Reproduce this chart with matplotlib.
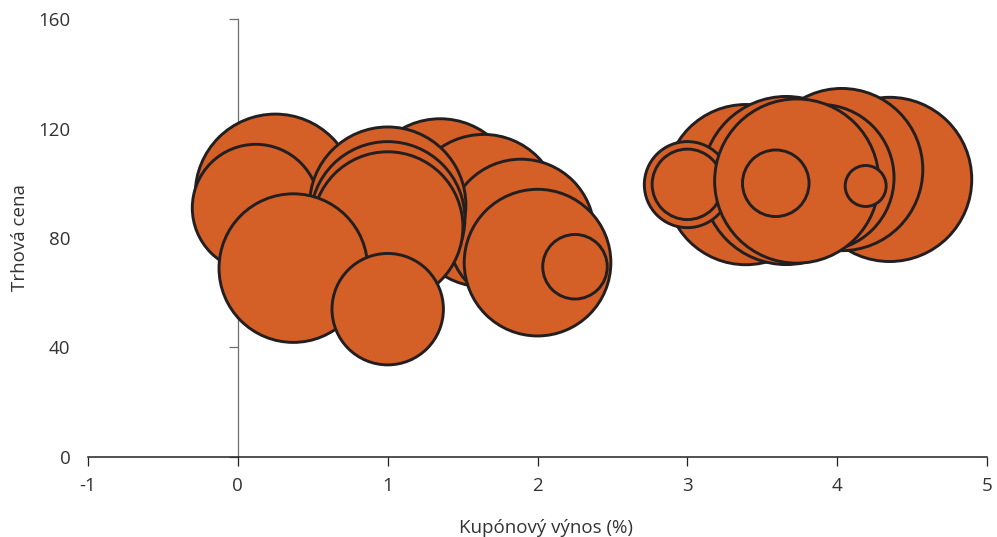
import matplotlib
matplotlib.use('Agg')
import matplotlib.pyplot as plt

plt.rcParams['font.family'] = ['Open Sans', 'DejaVu Sans']

# bubbles in drawing order (back to front)
kupon = [1.35, 1.64, 1.89, 0.25, 0.12, 1.0, 1.0, 1.0, 2.0, 0.37, 1.0, 2.25,
         4.35, 3.39, 3.66, 3.0, 3.0, 4.03, 3.89, 3.73, 3.59, 4.19]
cena = [95, 90, 82, 96, 91, 92, 87, 84, 71, 69, 54, 69.5,
        101.4, 99.5, 101, 99.5, 99.6, 105, 102, 100.8, 100, 99]
objem = [64, 60.8, 56.3, 67.2, 42.3, 64, 62.4, 59.3, 56.3, 57.8, 32.5, 10.9,
         70.6, 67.2, 74, 19.4, 13, 68.9, 56.3, 70.6, 11.6, 4.4]

xticks = [-1, 0, 1, 2, 3, 4, 5]
yticks = [0, 40, 80, 120, 160]

fig = plt.figure(figsize=(9.97, 5.37), dpi=100)
ax = fig.add_axes([0.0883, 0.149, 0.9017, 0.8156])

ax.scatter(kupon, cena, s=[v * 198 for v in objem], c='#D45F27',
           edgecolors='#231F20', linewidths=2.1, zorder=3)

ax.set_xlim(-1, 5)
ax.set_ylim(0, 160)
ax.set_xticks(xticks)
ax.set_yticks(yticks)
ax.set_xticklabels(['%d' % t for t in xticks])

ax.spines['top'].set_visible(False)
ax.spines['right'].set_visible(False)
ax.spines['left'].set_position(('data', 0))
ax.spines['left'].set_color('#6d6d6d')
ax.spines['left'].set_linewidth(0.9)
ax.spines['bottom'].set_color('#231F20')
ax.spines['bottom'].set_linewidth(1.1)

ax.tick_params(axis='y', direction='out', length=6.5, width=0.9, color='#6d6d6d',
               pad=114, labelsize=13.5, labelcolor='#333333')
ax.tick_params(axis='x', direction='out', length=6.5, width=0.9, color='#231F20',
               pad=8, labelsize=13.5, labelcolor='#333333')

ax.set_xlabel('Kupónový výnos (%)', fontsize=13.5, color='#333333')
ax.xaxis.set_label_coords(0.509, -0.162)
ax.xaxis.label.set_va('center')
ax.set_ylabel('Trhová cena', fontsize=13.5, color='#333333')
ax.yaxis.set_label_coords(-0.0756, 0.5)
ax.yaxis.label.set_va('center')

fig.savefig('out.png', dpi=100)
